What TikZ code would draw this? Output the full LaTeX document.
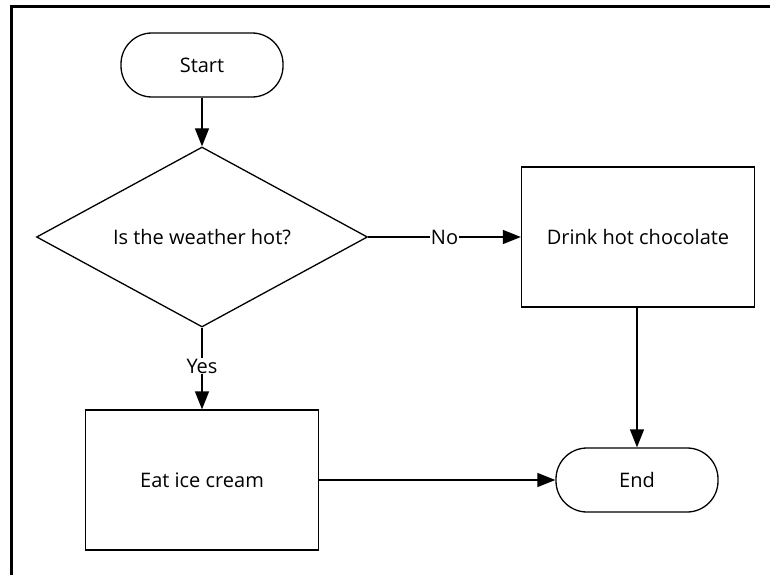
\documentclass[tikz,border=0pt]{standalone}
\usepackage{fontspec}
\setmainfont{Open Sans}
\usepackage{tikz}
\usetikzlibrary{positioning,arrows.meta,shapes.geometric}

\begin{document}
\begin{tikzpicture}[x=1pt, y=-1pt,
  term/.style={draw, line width=1.3pt, rounded corners=31pt, align=center, font=\fontsize{20}{23}\selectfont,
               minimum width=162pt, minimum height=64pt, inner sep=0pt},
  box/.style={draw, line width=1.3pt, align=center, font=\fontsize{20}{23}\selectfont,
              minimum width=233pt, minimum height=140pt, inner sep=0pt},
  cond/.style={draw, diamond, aspect=1.84, line width=1.3pt, align=center, font=\fontsize{20}{23}\selectfont,
               minimum width=331pt, minimum height=180pt, inner sep=0pt},
  lbl/.style={fill=white, inner sep=0.5pt, font=\fontsize{20}{23}\selectfont},
  arr/.style={-{Triangle[length=18pt, width=14pt]}, line width=1.3pt}]
\useasboundingbox (0,0) rectangle (770,575);
% frame of the screenshot
\draw[line width=3pt] (11,575) -- (11,6.5) -- (770,6.5);
\node[term] (start) at (202,65)  {Start};
\node[cond] (hot)   at (202,237) {Is the weather hot?};
\node[box]  (drink) at (638,237) {Drink hot chocolate};
\node[box]  (eat)   at (202,480) {Eat ice cream};
\node[term] (end)   at (637,480) {End};
\draw[arr] (start) -- (hot);
\draw[arr] (hot) -- node[lbl] {No} (drink);
\draw[arr] (hot) -- node[lbl, pos=0.47] {Yes} (eat);
\draw[arr] (drink.south -| end.north) -- (end);
\draw[arr] (eat) -- (end);
\end{tikzpicture}
\end{document}
